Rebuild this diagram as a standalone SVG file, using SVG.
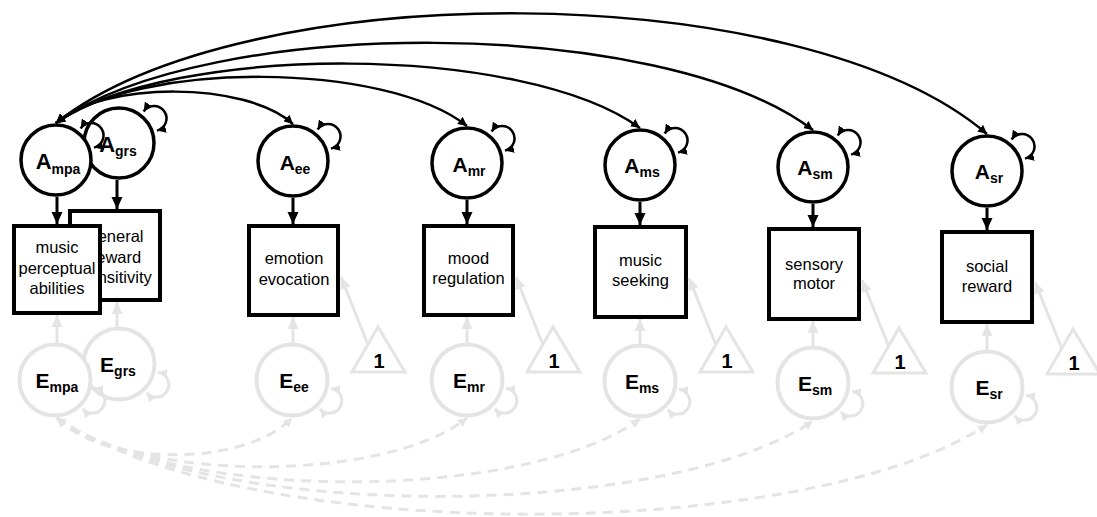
<svg xmlns="http://www.w3.org/2000/svg" width="1097" height="517" viewBox="0 0 1097 517">
<defs>
<style>
.ac{fill:#fff;stroke:#000;stroke-width:3.5}
.ec{fill:#fff;stroke:#e4e4e4;stroke-width:4}
.bx{fill:#fff;stroke:#000;stroke-width:4}
.tri{fill:#fff;stroke:#e4e4e4;stroke-width:3}
.lbl{font-family:"Liberation Sans",Arial,sans-serif;font-weight:bold;font-size:21px;fill:#000;text-anchor:middle}
.big{font-size:22px}
.sub{font-size:14px}
.bt{font-family:"Liberation Sans",Arial,sans-serif;font-size:16.5px;fill:#000;text-anchor:middle}
.one{font-family:"Liberation Sans",Arial,sans-serif;font-weight:bold;font-size:20px;fill:#000;text-anchor:middle}
.ka{fill:none;stroke:#000;stroke-width:3;marker-end:url(#ahB)}
.kc{fill:none;stroke:#000;stroke-width:2.5;marker-start:url(#ahS);marker-end:url(#ahS)}
.ge{fill:none;stroke:#e4e4e4;stroke-width:3;marker-end:url(#ahG)}
.gd{fill:none;stroke:#e4e4e4;stroke-width:3;stroke-dasharray:10 7;marker-start:url(#ahGS);marker-end:url(#ahGS)}
.gl{fill:none;stroke:#e4e4e4;stroke-width:3;marker-start:url(#ahGS);marker-end:url(#ahGS)}
</style>
<marker id="ahB" viewBox="0 0 12 12" refX="12" refY="6" markerWidth="12" markerHeight="12" markerUnits="userSpaceOnUse" orient="auto"><path d="M0,0.5 L12,6 L0,11.5 z" fill="#000"/></marker>
<marker id="ahS" viewBox="0 0 10 10" refX="10" refY="5" markerWidth="9" markerHeight="9" markerUnits="userSpaceOnUse" orient="auto-start-reverse"><path d="M0,0 L10,5 L0,10 z" fill="#000"/></marker>
<marker id="ahG" viewBox="0 0 12 12" refX="12" refY="6" markerWidth="12" markerHeight="12" markerUnits="userSpaceOnUse" orient="auto"><path d="M0,0.5 L12,6 L0,11.5 z" fill="#e4e4e4"/></marker>
<marker id="ahGS" viewBox="0 0 10 10" refX="10" refY="5" markerWidth="9" markerHeight="9" markerUnits="userSpaceOnUse" orient="auto-start-reverse"><path d="M0,0 L10,5 L0,10 z" fill="#e4e4e4"/></marker>
</defs>
<rect width="1097" height="517" fill="#fff"/>

<!-- nodes -->
<g id="node-grs-box"><rect class="bx" x="70" y="211" width="90" height="89"/>
<text class="bt" x="116" y="242">general</text><text class="bt" x="116" y="263">reward</text><text class="bt" x="116" y="283">sensitivity</text></g>
<g id="node-A-grs"><circle class="ac" cx="119" cy="143" r="35"/><text class="lbl big" x="118" y="152">A<tspan class="sub" dy="4">grs</tspan></text></g>
<g id="node-E-grs"><circle class="ec" cx="119" cy="364" r="35.5"/><text class="lbl" x="118" y="372">E<tspan class="sub" dy="4">grs</tspan></text></g>

<g id="node-mpa-box"><rect class="bx" x="14" y="226" width="86" height="87"/>
<text class="bt" x="57" y="253">music</text><text class="bt" x="57" y="273.5">perceptual</text><text class="bt" x="57" y="294">abilities</text></g>
<g id="node-A-mpa"><circle class="ac" cx="56" cy="160" r="35"/><text class="lbl big" x="58" y="168.5">A<tspan class="sub" dy="5">mpa</tspan></text></g>
<g id="node-E-mpa"><circle class="ec" cx="55" cy="380" r="35.5"/><text class="lbl" x="57" y="388">E<tspan class="sub" dy="4">mpa</tspan></text></g>

<g id="node-ee-box"><rect class="bx" x="249" y="226" width="89" height="89"/>
<text class="bt" x="294" y="264">emotion</text><text class="bt" x="294" y="285">evocation</text></g>
<g id="node-A-ee"><circle class="ac" cx="293" cy="161" r="35"/><text class="lbl" x="295" y="169.5">A<tspan class="sub" dy="4">ee</tspan></text></g>
<g id="node-E-ee"><circle class="ec" cx="292" cy="380" r="35.5"/><text class="lbl" x="294" y="388">E<tspan class="sub" dy="4">ee</tspan></text></g>
<g id="node-one-ee"><polygon class="tri" points="378,327 352,372 405,372"/><text class="one" x="379" y="368">1</text></g>

<g id="node-mr-box"><rect class="bx" x="424" y="226" width="89" height="89"/>
<text class="bt" x="468.5" y="264">mood</text><text class="bt" x="468.5" y="284">regulation</text></g>
<g id="node-A-mr"><circle class="ac" cx="467" cy="163" r="35"/><text class="lbl" x="469" y="171.5">A<tspan class="sub" dy="4">mr</tspan></text></g>
<g id="node-E-mr"><circle class="ec" cx="467" cy="380" r="35.5"/><text class="lbl" x="469" y="388">E<tspan class="sub" dy="4">mr</tspan></text></g>
<g id="node-one-mr"><polygon class="tri" points="553,327 527,372 580,372"/><text class="one" x="554" y="368">1</text></g>

<g id="node-ms-box"><rect class="bx" x="595" y="227" width="91" height="90"/>
<text class="bt" x="640.5" y="266">music</text><text class="bt" x="640.5" y="286">seeking</text></g>
<g id="node-A-ms"><circle class="ac" cx="640" cy="165" r="35"/><text class="lbl" x="642" y="172.5">A<tspan class="sub" dy="4">ms</tspan></text></g>
<g id="node-E-ms"><circle class="ec" cx="640" cy="381" r="35.5"/><text class="lbl" x="642" y="389">E<tspan class="sub" dy="4">ms</tspan></text></g>
<g id="node-one-ms"><polygon class="tri" points="726,327 700,372 753,372"/><text class="one" x="727" y="368">1</text></g>

<g id="node-sm-box"><rect class="bx" x="769" y="229" width="90" height="90"/>
<text class="bt" x="814" y="270">sensory</text><text class="bt" x="814" y="289">motor</text></g>
<g id="node-A-sm"><circle class="ac" cx="813" cy="167" r="35"/><text class="lbl" x="815" y="174.5">A<tspan class="sub" dy="4">sm</tspan></text></g>
<g id="node-E-sm"><circle class="ec" cx="813" cy="383" r="35.5"/><text class="lbl" x="815" y="391">E<tspan class="sub" dy="4">sm</tspan></text></g>
<g id="node-one-sm"><polygon class="tri" points="899,328 873,373 926,373"/><text class="one" x="900" y="369">1</text></g>

<g id="node-sr-box"><rect class="bx" x="942" y="232" width="90" height="90"/>
<text class="bt" x="987" y="272">social</text><text class="bt" x="987" y="292">reward</text></g>
<g id="node-A-sr"><circle class="ac" cx="987" cy="171" r="35"/><text class="lbl" x="989" y="178.5">A<tspan class="sub" dy="4">sr</tspan></text></g>
<g id="node-E-sr"><circle class="ec" cx="987" cy="387" r="35.5"/><text class="lbl" x="989" y="395">E<tspan class="sub" dy="4">sr</tspan></text></g>
<g id="node-one-sr"><polygon class="tri" points="1073,329 1047,374 1100,374"/><text class="one" x="1074" y="370">1</text></g>

<!-- connectors -->
<g id="connectors">
<!-- A to indicator -->
<path class="ka" d="M117,180 L117,209"/>
<path class="ka" d="M57,197 L57,224"/>
<path class="ka" d="M293,198 L293,224"/>
<path class="ka" d="M467,200 L467,224"/>
<path class="ka" d="M640,202 L640,225"/>
<path class="ka" d="M813,204 L813,227"/>
<path class="ka" d="M987,208 L987,230"/>
<!-- E to indicator -->
<path class="ge" d="M117,327 L117,302"/>
<path class="ge" d="M57,343 L57,315"/>
<path class="ge" d="M293,343 L293,317"/>
<path class="ge" d="M467,343 L467,317"/>
<path class="ge" d="M640,344 L640,319"/>
<path class="ge" d="M813,346 L813,321"/>
<path class="ge" d="M987,350 L987,324"/>
<!-- intercepts -->
<path class="ge" d="M368,345 L341,277"/>
<path class="ge" d="M543,345 L516,277"/>
<path class="ge" d="M716,345 L689,278"/>
<path class="ge" d="M889,347 L862,280"/>
<path class="ge" d="M1062,349 L1035,282"/>
<!-- A self loops -->
<path class="kc" d="M143.6,111.5 A12.5,12.5 0 1 1 157,130.6"/>
<path class="kc" d="M80.6,128.5 A12.5,12.5 0 1 1 94,147.6"/>
<path class="kc" d="M317.6,129.5 A12.5,12.5 0 1 1 331,148.6"/>
<path class="kc" d="M491.6,131.5 A12.5,12.5 0 1 1 505,150.6"/>
<path class="kc" d="M664.6,133.5 A12.5,12.5 0 1 1 678,152.6"/>
<path class="kc" d="M837.6,135.5 A12.5,12.5 0 1 1 851,154.6"/>
<path class="kc" d="M1011.6,139.5 A12.5,12.5 0 1 1 1025,158.6"/>
<!-- E self loops -->
<path class="gl" d="M158.1,372.3 A12.5,12.5 0 1 1 146.8,392.8"/>
<path class="gl" d="M94.1,388.3 A12.5,12.5 0 1 1 82.8,408.8"/>
<path class="gl" d="M331.1,388.3 A12.5,12.5 0 1 1 319.8,408.8"/>
<path class="gl" d="M506.1,388.3 A12.5,12.5 0 1 1 494.8,408.8"/>
<path class="gl" d="M679.1,389.3 A12.5,12.5 0 1 1 667.8,409.8"/>
<path class="gl" d="M852.1,391.3 A12.5,12.5 0 1 1 840.8,411.8"/>
<path class="gl" d="M1026.1,395.3 A12.5,12.5 0 1 1 1014.8,415.8"/>
<!-- A covariances -->
<path class="kc" d="M56,123 C103,81 246,81 293,124"/>
<path class="kc" d="M56,123 C138,61 385,61 467,126"/>
<path class="kc" d="M56,123 C173,43 523,43 640,128"/>
<path class="kc" d="M56,123 C207,15 662,15 813,130"/>
<path class="kc" d="M56,123 C242,-25 801,-25 987,134"/>
<!-- E covariances -->
<path class="gd" d="M57,418 C104,467 245,467 292,418"/>
<path class="gd" d="M57,418 C139,483 385,483 467,418"/>
<path class="gd" d="M57,418 C174,503 523,503 640,419"/>
<path class="gd" d="M57,418 C208,522 662,522 813,421"/>
<path class="gd" d="M57,418 C243,545 801,545 987,425"/>
</g>
</svg>
